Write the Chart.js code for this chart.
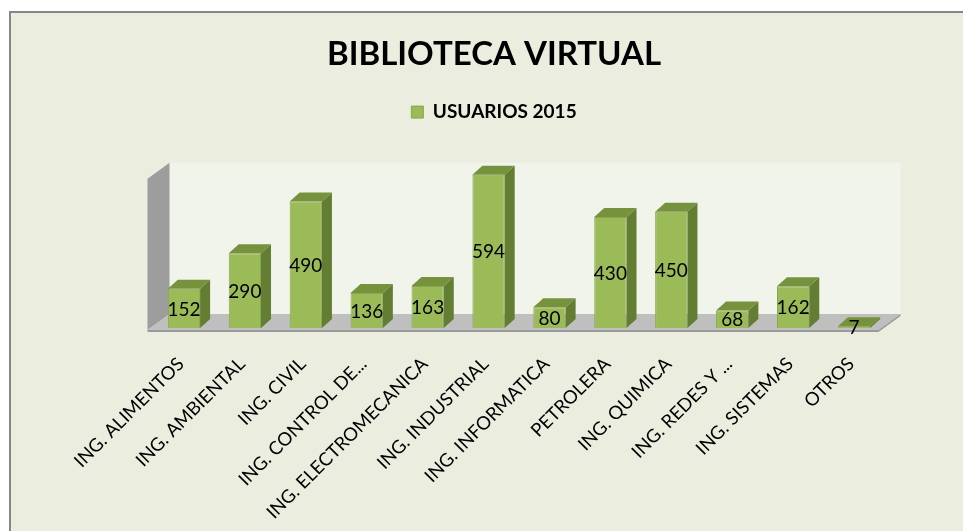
<!DOCTYPE html>
<html>
<head>
<meta charset="utf-8">
<script src="https://cdn.jsdelivr.net/npm/chart.js@4"></script>
<style>
  html, body { margin: 0; padding: 0; background: #fff; }
  #wrap { width: 963px; height: 531px; }
</style>
</head>
<body>
<div id="wrap"><canvas id="chart" width="963" height="531"></canvas></div>
<script>
const carreras = ['ING. ALIMENTOS', 'ING. AMBIENTAL', 'ING. CIVIL', 'ING. CONTROL DE...',
  'ING. ELECTROMECANICA', 'ING. INDUSTRIAL', 'ING. INFORMATICA', 'PETROLERA',
  'ING. QUIMICA', 'ING. REDES Y ...', 'ING. SISTEMAS', 'OTROS'];
const usuarios2015 = [152, 290, 490, 136, 163, 594, 80, 430, 450, 68, 162, 7];

const FONT = 'Lato, "Open Sans", sans-serif';

// fondo, marco, paredes y piso al estilo Excel 3D
const escena = {
  id: 'escena',
  beforeDraw(chart) {
    const c = chart.ctx;
    c.save();
    c.fillStyle = '#fff';
    c.fillRect(0, 0, chart.width, chart.height);
    c.fillStyle = '#EBEEDF';
    c.fillRect(9, 11, chart.width, chart.height);
    c.fillStyle = '#868686';
    c.fillRect(9, 11, chart.width, 2);
    c.fillRect(9, 11, 2, chart.height);
    c.restore();
  },
  beforeDatasetsDraw(chart) {
    const c = chart.ctx, a = chart.chartArea;
    const dx = 22, dy = -16;
    const fl = a.left - 6, fr = a.right - 6, fb = a.bottom + 2;
    c.save();
    // pared del fondo
    c.fillStyle = '#F0F4EA';
    c.fillRect(fl + dx, a.top, fr - fl, fb + dy - a.top);
    // pared lateral
    c.fillStyle = '#9D9D9D';
    c.beginPath();
    c.moveTo(fl, fb);
    c.lineTo(fl, a.top - dy);
    c.lineTo(fl + dx, a.top);
    c.lineTo(fl + dx, fb + dy);
    c.closePath();
    c.fill();
    // piso
    c.fillStyle = '#BFBFBF';
    c.beginPath();
    c.moveTo(fl, fb);
    c.lineTo(fr, fb);
    c.lineTo(fr + dx, fb + dy);
    c.lineTo(fl + dx, fb + dy);
    c.closePath();
    c.fill();
    c.fillStyle = '#9A9A9A';
    c.beginPath();
    c.moveTo(fl, fb);
    c.lineTo(fr, fb);
    c.lineTo(fr + dx, fb + dy);
    c.lineTo(fr + dx, fb + dy + 2);
    c.lineTo(fr, fb + 2);
    c.lineTo(fl, fb + 2);
    c.closePath();
    c.fill();
    c.restore();
  },
  afterDatasetsDraw(chart) {
    const c = chart.ctx;
    const meta = chart.getDatasetMeta(0);
    const dx = 10, dy = -9;
    c.save();
    meta.data.forEach((bar) => {
      const l = bar.x - bar.width / 2, r = bar.x + bar.width / 2;
      const t = bar.y, b = bar.base;
      // cara lateral
      c.fillStyle = '#637D32';
      c.beginPath();
      c.moveTo(r, t); c.lineTo(r + dx, t + dy); c.lineTo(r + dx, b + dy); c.lineTo(r, b);
      c.closePath(); c.fill();
      // cara superior
      c.fillStyle = '#76923C';
      c.beginPath();
      c.moveTo(l, t); c.lineTo(r, t); c.lineTo(r + dx, t + dy); c.lineTo(l + dx, t + dy);
      c.closePath(); c.fill();
    });
    // etiquetas de valor
    c.fillStyle = '#000';
    c.font = '19px ' + FONT;
    c.textAlign = 'center';
    c.textBaseline = 'middle';
    meta.data.forEach((bar, i) => {
      c.fillText(String(usuarios2015[i]), bar.x, (bar.y + bar.base) / 2 + 1);
    });
    c.restore();
  }
};

new Chart(document.getElementById('chart'), {
  type: 'bar',
  data: {
    labels: carreras,
    datasets: [{
      label: 'USUARIOS 2015',
      data: usuarios2015,
      backgroundColor: '#9BBB59',
      borderColor: '#87A84A',
      borderWidth: 1,
      barPercentage: 0.53,
      categoryPercentage: 1
    }]
  },
  options: {
    responsive: false,
    animation: false,
    layout: { padding: { left: 25, right: 0, top: 0, bottom: 0 } },
    plugins: {
      title: {
        display: true,
        text: 'BIBLIOTECA VIRTUAL',
        color: '#000',
        font: { family: FONT, size: 33, weight: 'bold' },
        padding: { top: 35, bottom: 18 }
      },
      subtitle: {
        // separador entre la leyenda y el área del gráfico
        display: true,
        text: '',
        weight: 500,
        font: { size: 1 },
        padding: { top: 0, bottom: 30 }
      },
      legend: {
        position: 'top',
        labels: {
          color: '#000',
          boxWidth: 12,
          boxHeight: 12,
          padding: 10,
          font: { family: FONT, size: 19, weight: 'bold' }
        }
      },
      tooltip: { enabled: false }
    },
    scales: {
      x: {
        grid: { display: false },
        border: { display: false },
        ticks: {
          color: '#000',
          minRotation: 45,
          maxRotation: 45,
          autoSkip: false,
          padding: 17,
          labelOffset: -3,
          font: { family: FONT, size: 18.5 }
        },
        afterFit(scale) { scale.height = 203; }
      },
      y: {
        display: true,
        min: 0,
        max: 640,
        grid: { display: false },
        border: { display: false },
        ticks: { display: false },
        afterFit(scale) { scale.width = 128.5; }
      },
      margen: {
        display: true,
        position: 'right',
        grid: { display: false },
        border: { display: false },
        ticks: { display: false },
        afterFit(scale) { scale.width = 78.5; }
      }
    }
  },
  plugins: [escena]
});
</script>
</body>
</html>
